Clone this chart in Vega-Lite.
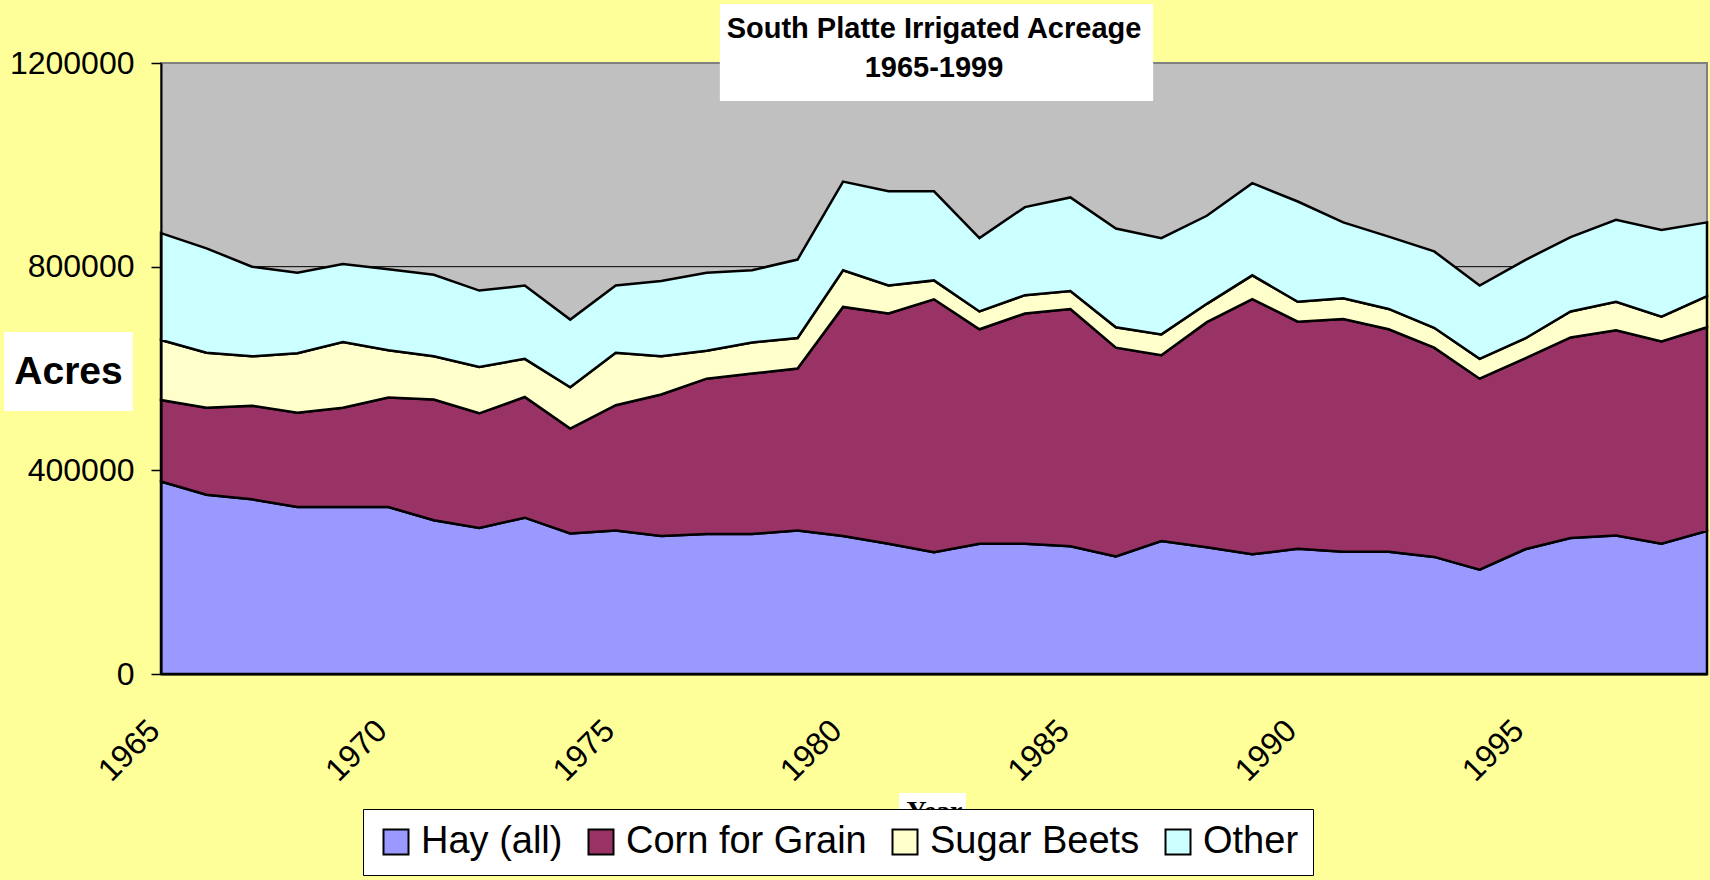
{
  "$schema": "https://vega.github.io/schema/vega-lite/v6.json",
  "width": 1546,
  "height": 611,
  "autosize": {"type": "none"},
  "padding": {"left": 161, "top": 63, "right": 3, "bottom": 206},
  "background": "#FFFF99",
  "config": {
    "view": {"fill": "#C0C0C0", "stroke": "#808080", "strokeWidth": 2},
    "font": "Liberation Sans"
  },
  "title": {
    "text": ["South Platte Irrigated Acreage", "1965-1999"],
    "font": "Liberation Sans",
    "fontSize": 29,
    "fontWeight": "bold",
    "color": "black",
    "anchor": "middle",
    "frame": "group",
    "lineHeight": 39,
    "offset": -79
  },
  "layer": [
    {
      "data": {"values": [{}]},
      "mark": {"type": "rule", "color": "black", "strokeWidth": 1},
      "encoding": {"y": {"datum": 800000, "type": "quantitative"}}
    },
    {
      "data": {"values": [
        {"year":1965,"crop":"Hay (all)","acres":378000,"stack":1},{"year":1965,"crop":"Corn for Grain","acres":160000,"stack":2},{"year":1965,"crop":"Sugar Beets","acres":118000,"stack":3},{"year":1965,"crop":"Other","acres":210000,"stack":4},
        {"year":1966,"crop":"Hay (all)","acres":352000,"stack":1},{"year":1966,"crop":"Corn for Grain","acres":171000,"stack":2},{"year":1966,"crop":"Sugar Beets","acres":108000,"stack":3},{"year":1966,"crop":"Other","acres":205000,"stack":4},
        {"year":1967,"crop":"Hay (all)","acres":343000,"stack":1},{"year":1967,"crop":"Corn for Grain","acres":184000,"stack":2},{"year":1967,"crop":"Sugar Beets","acres":97000,"stack":3},{"year":1967,"crop":"Other","acres":176000,"stack":4},
        {"year":1968,"crop":"Hay (all)","acres":328000,"stack":1},{"year":1968,"crop":"Corn for Grain","acres":185000,"stack":2},{"year":1968,"crop":"Sugar Beets","acres":117000,"stack":3},{"year":1968,"crop":"Other","acres":158000,"stack":4},
        {"year":1969,"crop":"Hay (all)","acres":328000,"stack":1},{"year":1969,"crop":"Corn for Grain","acres":195000,"stack":2},{"year":1969,"crop":"Sugar Beets","acres":129000,"stack":3},{"year":1969,"crop":"Other","acres":153000,"stack":4},
        {"year":1970,"crop":"Hay (all)","acres":328000,"stack":1},{"year":1970,"crop":"Corn for Grain","acres":215000,"stack":2},{"year":1970,"crop":"Sugar Beets","acres":93000,"stack":3},{"year":1970,"crop":"Other","acres":159000,"stack":4},
        {"year":1971,"crop":"Hay (all)","acres":302000,"stack":1},{"year":1971,"crop":"Corn for Grain","acres":237000,"stack":2},{"year":1971,"crop":"Sugar Beets","acres":85000,"stack":3},{"year":1971,"crop":"Other","acres":160000,"stack":4},
        {"year":1972,"crop":"Hay (all)","acres":287000,"stack":1},{"year":1972,"crop":"Corn for Grain","acres":225000,"stack":2},{"year":1972,"crop":"Sugar Beets","acres":91000,"stack":3},{"year":1972,"crop":"Other","acres":150000,"stack":4},
        {"year":1973,"crop":"Hay (all)","acres":307000,"stack":1},{"year":1973,"crop":"Corn for Grain","acres":237000,"stack":2},{"year":1973,"crop":"Sugar Beets","acres":75000,"stack":3},{"year":1973,"crop":"Other","acres":144000,"stack":4},
        {"year":1974,"crop":"Hay (all)","acres":276000,"stack":1},{"year":1974,"crop":"Corn for Grain","acres":206000,"stack":2},{"year":1974,"crop":"Sugar Beets","acres":81000,"stack":3},{"year":1974,"crop":"Other","acres":133000,"stack":4},
        {"year":1975,"crop":"Hay (all)","acres":282000,"stack":1},{"year":1975,"crop":"Corn for Grain","acres":246000,"stack":2},{"year":1975,"crop":"Sugar Beets","acres":103000,"stack":3},{"year":1975,"crop":"Other","acres":132000,"stack":4},
        {"year":1976,"crop":"Hay (all)","acres":271000,"stack":1},{"year":1976,"crop":"Corn for Grain","acres":278000,"stack":2},{"year":1976,"crop":"Sugar Beets","acres":75000,"stack":3},{"year":1976,"crop":"Other","acres":148000,"stack":4},
        {"year":1977,"crop":"Hay (all)","acres":275000,"stack":1},{"year":1977,"crop":"Corn for Grain","acres":305000,"stack":2},{"year":1977,"crop":"Sugar Beets","acres":55000,"stack":3},{"year":1977,"crop":"Other","acres":153000,"stack":4},
        {"year":1978,"crop":"Hay (all)","acres":275000,"stack":1},{"year":1978,"crop":"Corn for Grain","acres":315000,"stack":2},{"year":1978,"crop":"Sugar Beets","acres":61000,"stack":3},{"year":1978,"crop":"Other","acres":142000,"stack":4},
        {"year":1979,"crop":"Hay (all)","acres":282000,"stack":1},{"year":1979,"crop":"Corn for Grain","acres":318000,"stack":2},{"year":1979,"crop":"Sugar Beets","acres":60000,"stack":3},{"year":1979,"crop":"Other","acres":154000,"stack":4},
        {"year":1980,"crop":"Hay (all)","acres":271000,"stack":1},{"year":1980,"crop":"Corn for Grain","acres":450000,"stack":2},{"year":1980,"crop":"Sugar Beets","acres":72000,"stack":3},{"year":1980,"crop":"Other","acres":174000,"stack":4},
        {"year":1981,"crop":"Hay (all)","acres":256000,"stack":1},{"year":1981,"crop":"Corn for Grain","acres":452000,"stack":2},{"year":1981,"crop":"Sugar Beets","acres":55000,"stack":3},{"year":1981,"crop":"Other","acres":185000,"stack":4},
        {"year":1982,"crop":"Hay (all)","acres":239000,"stack":1},{"year":1982,"crop":"Corn for Grain","acres":497000,"stack":2},{"year":1982,"crop":"Sugar Beets","acres":37000,"stack":3},{"year":1982,"crop":"Other","acres":175000,"stack":4},
        {"year":1983,"crop":"Hay (all)","acres":256000,"stack":1},{"year":1983,"crop":"Corn for Grain","acres":421000,"stack":2},{"year":1983,"crop":"Sugar Beets","acres":35000,"stack":3},{"year":1983,"crop":"Other","acres":144000,"stack":4},
        {"year":1984,"crop":"Hay (all)","acres":256000,"stack":1},{"year":1984,"crop":"Corn for Grain","acres":452000,"stack":2},{"year":1984,"crop":"Sugar Beets","acres":36000,"stack":3},{"year":1984,"crop":"Other","acres":173000,"stack":4},
        {"year":1985,"crop":"Hay (all)","acres":251000,"stack":1},{"year":1985,"crop":"Corn for Grain","acres":466000,"stack":2},{"year":1985,"crop":"Sugar Beets","acres":35000,"stack":3},{"year":1985,"crop":"Other","acres":184000,"stack":4},
        {"year":1986,"crop":"Hay (all)","acres":231000,"stack":1},{"year":1986,"crop":"Corn for Grain","acres":410000,"stack":2},{"year":1986,"crop":"Sugar Beets","acres":40000,"stack":3},{"year":1986,"crop":"Other","acres":194000,"stack":4},
        {"year":1987,"crop":"Hay (all)","acres":261000,"stack":1},{"year":1987,"crop":"Corn for Grain","acres":365000,"stack":2},{"year":1987,"crop":"Sugar Beets","acres":41000,"stack":3},{"year":1987,"crop":"Other","acres":189000,"stack":4},
        {"year":1988,"crop":"Hay (all)","acres":249000,"stack":1},{"year":1988,"crop":"Corn for Grain","acres":442000,"stack":2},{"year":1988,"crop":"Sugar Beets","acres":36000,"stack":3},{"year":1988,"crop":"Other","acres":173000,"stack":4},
        {"year":1989,"crop":"Hay (all)","acres":235000,"stack":1},{"year":1989,"crop":"Corn for Grain","acres":501000,"stack":2},{"year":1989,"crop":"Sugar Beets","acres":47000,"stack":3},{"year":1989,"crop":"Other","acres":181000,"stack":4},
        {"year":1990,"crop":"Hay (all)","acres":246000,"stack":1},{"year":1990,"crop":"Corn for Grain","acres":446000,"stack":2},{"year":1990,"crop":"Sugar Beets","acres":39000,"stack":3},{"year":1990,"crop":"Other","acres":197000,"stack":4},
        {"year":1991,"crop":"Hay (all)","acres":240000,"stack":1},{"year":1991,"crop":"Corn for Grain","acres":457000,"stack":2},{"year":1991,"crop":"Sugar Beets","acres":41000,"stack":3},{"year":1991,"crop":"Other","acres":149000,"stack":4},
        {"year":1992,"crop":"Hay (all)","acres":240000,"stack":1},{"year":1992,"crop":"Corn for Grain","acres":437000,"stack":2},{"year":1992,"crop":"Sugar Beets","acres":40000,"stack":3},{"year":1992,"crop":"Other","acres":142000,"stack":4},
        {"year":1993,"crop":"Hay (all)","acres":230000,"stack":1},{"year":1993,"crop":"Corn for Grain","acres":411000,"stack":2},{"year":1993,"crop":"Sugar Beets","acres":39000,"stack":3},{"year":1993,"crop":"Other","acres":150000,"stack":4},
        {"year":1994,"crop":"Hay (all)","acres":205000,"stack":1},{"year":1994,"crop":"Corn for Grain","acres":375000,"stack":2},{"year":1994,"crop":"Sugar Beets","acres":39000,"stack":3},{"year":1994,"crop":"Other","acres":144000,"stack":4},
        {"year":1995,"crop":"Hay (all)","acres":245000,"stack":1},{"year":1995,"crop":"Corn for Grain","acres":375000,"stack":2},{"year":1995,"crop":"Sugar Beets","acres":39000,"stack":3},{"year":1995,"crop":"Other","acres":154000,"stack":4},
        {"year":1996,"crop":"Hay (all)","acres":267000,"stack":1},{"year":1996,"crop":"Corn for Grain","acres":394000,"stack":2},{"year":1996,"crop":"Sugar Beets","acres":51000,"stack":3},{"year":1996,"crop":"Other","acres":146000,"stack":4},
        {"year":1997,"crop":"Hay (all)","acres":272000,"stack":1},{"year":1997,"crop":"Corn for Grain","acres":403000,"stack":2},{"year":1997,"crop":"Sugar Beets","acres":56000,"stack":3},{"year":1997,"crop":"Other","acres":161000,"stack":4},
        {"year":1998,"crop":"Hay (all)","acres":256000,"stack":1},{"year":1998,"crop":"Corn for Grain","acres":397000,"stack":2},{"year":1998,"crop":"Sugar Beets","acres":49000,"stack":3},{"year":1998,"crop":"Other","acres":170000,"stack":4},
        {"year":1999,"crop":"Hay (all)","acres":281000,"stack":1},{"year":1999,"crop":"Corn for Grain","acres":400000,"stack":2},{"year":1999,"crop":"Sugar Beets","acres":61000,"stack":3},{"year":1999,"crop":"Other","acres":145000,"stack":4}
      ]},
      "mark": {"type": "area", "stroke": "black", "strokeWidth": 2.5, "strokeJoin": "miter", "opacity": 1},
      "encoding": {
        "x": {
          "field": "year", "type": "quantitative",
          "scale": {"domain": [1965, 1999], "nice": false, "zero": false},
          "axis": {
            "values": [1965, 1970, 1975, 1980, 1985, 1990, 1995],
            "format": "d", "grid": false, "ticks": false, "tickSize": 0,
            "labelAngle": -45, "labelAlign": "right", "labelBaseline": "middle",
            "labelFont": "Liberation Sans", "labelFontSize": 32, "labelColor": "black",
            "labelPadding": 51, "labelOffset": -7, "labelFlush": false, "labelOverlap": false, "labelBound": false,
            "domainColor": "black", "domainWidth": 2,
            "title": "Year", "titleFont": "Liberation Serif", "titleFontSize": 28, "titleFontWeight": "bold", "titleColor": "black",
            "titleX": 773, "titleY": 123, "titleAlign": "center", "titleBaseline": "top",
            "zindex": 1
          }
        },
        "y": {
          "field": "acres", "type": "quantitative", "stack": "zero",
          "scale": {"domain": [0, 1200000], "nice": false, "zero": true},
          "axis": {
            "values": [0, 400000, 800000, 1200000],
            "format": "d", "grid": false,
            "tickSize": 10, "tickColor": "black", "tickWidth": 1.5,
            "labelFont": "Liberation Sans", "labelFontSize": 32, "labelColor": "black",
            "labelPadding": 17, "labelFlush": false, "labelOverlap": false, "labelBound": false,
            "domainColor": "black", "domainWidth": 2,
            "title": "Acres", "titleFont": "Liberation Sans", "titleFontSize": 39, "titleFontWeight": "bold", "titleColor": "black",
            "titleAngle": 0, "titleAlign": "center", "titleBaseline": "alphabetic", "titleX": -93, "titleY": 320,
            "zindex": 1
          }
        },
        "color": {
          "field": "crop", "type": "nominal",
          "scale": {"domain": ["Hay (all)", "Corn for Grain", "Sugar Beets", "Other"], "range": ["#9999FF", "#993366", "#FFFFCC", "#CCFFFF"]},
          "legend": {
            "title": null, "orient": "none", "legendX": 202, "legendY": 746,
            "direction": "horizontal", "columns": 4,
            "fillColor": "white", "strokeColor": "black", "padding": 14,
            "labelFont": "Liberation Sans", "labelFontSize": 38, "labelColor": "black", "labelLimit": 500,
            "symbolType": "square", "symbolSize": 625, "symbolStrokeColor": "black", "symbolStrokeWidth": 2, "symbolOpacity": 1,
            "labelOffset": 6, "columnPadding": 19, "zindex": 2
          }
        },
        "order": {"field": "stack", "type": "quantitative", "sort": "ascending"}
      }
    },
    {
      "data": {"values": [{}]},
      "mark": {"type": "rect", "fill": "white", "stroke": null},
      "encoding": {
        "x": {"datum": 1977.29, "type": "quantitative"}, "x2": {"datum": 1986.82},
        "y": {"datum": 1316000, "type": "quantitative"}, "y2": {"datum": 1125400}
      }
    },
    {
      "data": {"values": [{}]},
      "mark": {"type": "rect", "fill": "white", "stroke": null},
      "encoding": {
        "x": {"datum": 1961.55, "type": "quantitative"}, "x2": {"datum": 1964.38},
        "y": {"datum": 671700, "type": "quantitative"}, "y2": {"datum": 516500}
      }
    },
    {
      "data": {"values": [{}]},
      "mark": {"type": "rect", "fill": "white", "stroke": null},
      "encoding": {
        "x": {"datum": 1981.23, "type": "quantitative"}, "x2": {"datum": 1982.7},
        "y": {"datum": -233700, "type": "quantitative"}, "y2": {"datum": -300000}
      }
    }
  ]
}
